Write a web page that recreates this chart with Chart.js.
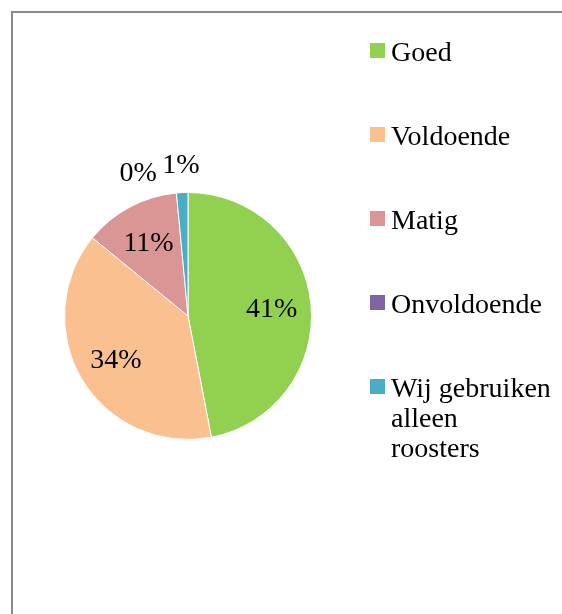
<!DOCTYPE html>
<html>
<head>
<meta charset="utf-8">
<script src="https://cdn.jsdelivr.net/npm/chart.js@4.4.0/dist/chart.umd.min.js"></script>
<style>
    html, body { margin: 0; padding: 0; background: #fff; overflow: hidden; }
    #wrap { position: relative; width: 562px; height: 614px; }
    #frame {
        position: absolute; left: 11px; top: 11px; width: 600px; height: 650px;
        border-left: 2px solid #898989; border-top: 2px solid #898989;
    }
    #pie { position: absolute; left: 0; top: 0; }
    #legend {
        position: absolute; left: 370px; top: 0;
        font-family: "Liberation Serif", "Times New Roman", serif; font-size: 28px; color: #000;
    }
    .item { position: absolute; left: 0; white-space: nowrap; }
    .box { position: absolute; left: 0; width: 15px; height: 15px; }
    .txt { position: absolute; left: 21px; line-height: 30px; }
</style>
</head>
<body>
<div id="wrap">
    <div id="frame"></div>
    <canvas id="pie" width="562" height="614"></canvas>
    <div id="legend"></div>
</div>
<script>
const categories = ["Goed", "Voldoende", "Matig", "Onvoldoende", ["Wij gebruiken", "alleen", "roosters"]];
const values = [41, 34, 11, 0, 1.3];
const sliceColors = ["#92D050", "#FAC090", "#D99694", "#8064A2", "#4BACC6"];

const FONT = '28px "Liberation Serif", "Times New Roman", serif';

// draws the value labels like Excel's "best fit": big slices inside, small ones outside
const valueLabels = {
    id: "valueLabels",
    afterDatasetsDraw(chart) {
        const ctx = chart.ctx;
        const meta = chart.getDatasetMeta(0);
        const data = chart.data.datasets[0].data;
        const total = data.reduce((a, b) => a + b, 0);
        ctx.save();
        ctx.font = FONT;
        ctx.fillStyle = "#000";
        ctx.textAlign = "center";
        ctx.textBaseline = "alphabetic";
        const placed = [];
        for (let i = meta.data.length - 1; i >= 0; i--) {
            const arc = meta.data[i];
            const { x, y, startAngle, endAngle, outerRadius } = arc.getProps(["x", "y", "startAngle", "endAngle", "outerRadius"], true);
            const text = Math.round(data[i]) + "%";
            const w = ctx.measureText(text).width;
            const h = 20;
            let mid = (startAngle + endAngle) / 2;
            let px, py;
            if (data[i] / total > 0.05) {
                const d = outerRadius * 0.68;
                px = x + Math.cos(mid) * d;
                py = y + Math.sin(mid) * d;
            } else {
                const d = outerRadius * 1.23;
                for (let k = 0; k < 60; k++) {
                    px = x + Math.cos(mid) * d;
                    py = y + Math.sin(mid) * d;
                    const hit = placed.some(p => Math.abs(p.x - px) < (p.w + w) / 2 + 4 && Math.abs(p.y - py) < h);
                    if (!hit) break;
                    mid -= 0.02;
                }
                placed.push({ x: px, y: py, w });
            }
            ctx.fillText(text, px, py + 9);
        }
        ctx.restore();
    }
};

const chart = new Chart(document.getElementById("pie"), {
    type: "pie",
    data: {
        labels: categories,
        datasets: [{
            data: values,
            backgroundColor: sliceColors,
            borderColor: "#ffffff",
            borderWidth: 1,
        }],
    },
    options: {
        responsive: false,
        animation: false,
        layout: { padding: { left: 64, top: 192, right: 250, bottom: 174 } },
        plugins: {
            legend: { display: false },
            tooltip: { enabled: false },
        },
    },
    plugins: [valueLabels],
});

// legend on the right, built from the same categories/colours
const legend = document.getElementById("legend");
const firstBaseline = 59;
const step = 84;
categories.forEach((label, i) => {
    const lines = Array.isArray(label) ? label : [label];
    const item = document.createElement("div");
    item.className = "item";
    item.style.top = (firstBaseline + i * step - 22) + "px";
    const box = document.createElement("div");
    box.className = "box";
    box.style.background = sliceColors[i];
    box.style.top = "6px";
    const txt = document.createElement("div");
    txt.className = "txt";
    txt.innerHTML = lines.join("<br>");
    item.appendChild(box);
    item.appendChild(txt);
    legend.appendChild(item);
});
</script>
</body>
</html>
